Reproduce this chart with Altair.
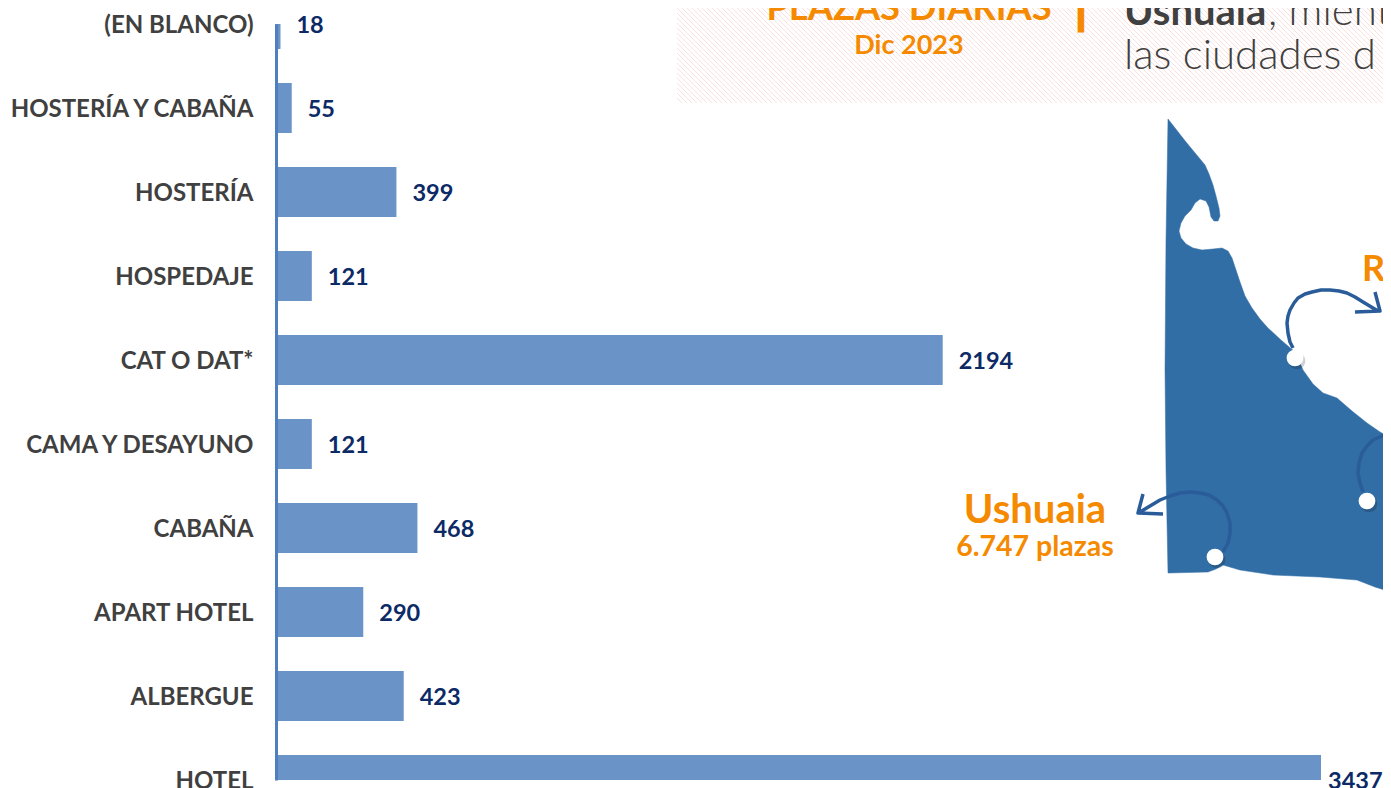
import altair as alt

categories = ["(EN BLANCO)", "HOSTERÍA Y CABAÑA", "HOSTERÍA", "HOSPEDAJE", "CAT O DAT*",
              "CAMA Y DESAYUNO", "CABAÑA", "APART HOTEL", "ALBERGUE", "HOTEL"]
values = [18, 55, 399, 121, 2194, 121, 468, 290, 423, 3437]

ORIGIN_X, ORIGIN_Y = 275, 24
PLOT_W, PLOT_H = 1108, 756
FONT = "Lato"
ORANGE = "#F58A00"
NAVY = "#0B2A66"
GREY = "#404040"
BAR = "#6A94C8"
LAND = "#326EA6"
ARROW = "#2A5C9A"

land_outline = [
    (1168, 119), (1186, 142), (1205, 165), (1209, 174), (1213, 185), (1216, 196), (1219, 208), (1220, 216),
    (1218, 221), (1214, 221), (1211, 217), (1209, 207), (1206, 201), (1200, 199), (1195, 203), (1191, 210),
    (1185, 216), (1181, 223), (1179, 231), (1181, 238), (1186, 244), (1193, 248), (1202, 250), (1213, 249),
    (1222, 248), (1228, 251), (1232, 258), (1236, 270), (1240, 282), (1245, 296), (1252, 308), (1260, 319),
    (1268, 328), (1281, 340), (1295, 352), (1303, 370), (1313, 384), (1323, 393), (1337, 398), (1352, 411),
    (1367, 423), (1380, 432), (1391, 438), (1391, 592), (1375, 587), (1357, 580), (1320, 577), (1273, 575),
    (1240, 570), (1223, 565), (1216, 569), (1208, 572), (1168, 573), (1166, 470), (1165, 370), (1166, 240),
    (1168, 119),
]
arrow_lines = [
    [(1293, 348), (1290, 342), (1288, 333), (1287, 323), (1288, 316), (1290, 310), (1294, 303), (1298, 298),
     (1305, 294), (1312, 292), (1321, 290), (1330, 290), (1339, 291), (1347, 293), (1355, 297), (1363, 302),
     (1378, 311)],
    [(1375, 292), (1380, 311), (1355, 312)],
    [(1223, 552), (1228, 543), (1230, 533), (1230, 523), (1227, 513), (1223, 506), (1217, 500), (1209, 495),
     (1200, 493), (1190, 492), (1180, 493), (1170, 496), (1160, 500), (1140, 512)],
    [(1143, 494), (1138, 513), (1163, 514)],
    [(1363, 492), (1360, 483), (1358, 473), (1359, 463), (1362, 453), (1367, 446), (1373, 440), (1382, 436),
     (1391, 433)],
]
dots = [(1295, 358), (1215, 557), (1367, 501)]

# (text, x, baseline y, size, weight, colour, align, outline)
texts = [
    ("PLAZAS DIARIAS", 909, 20, 36.3, "bold", ORANGE, "center", 0),
    ("Dic 2023", 909, 54, 27, "bold", ORANGE, "center", 0),
    ("|", 1081, 25, 36, "bold", ORANGE, "center", 3),
    ("Ushuaia", 1124, 25, 40, "bold", GREY, "left", 0),
    (", mient", 1268, 25, 42, 300, GREY, "left", 0),
    ("las ciudades d", 1124, 69, 42, 300, GREY, "left", 0),
    ("Ushuaia", 1035, 523, 40, "bold", ORANGE, "center", 0),
    ("6.747 plazas", 1035, 556, 28.5, "bold", ORANGE, "center", 0),
    ("R", 1362, 281, 36, "bold", ORANGE, "left", 0),
]

HATCH = (677, 8, 1391, 103)


def hatch_lines():
    x0, y0, x1, y1 = HATCH
    lines = []
    c = x0 - (y1 - y0)
    while c < x1:
        sx, sy = c, y0
        if sx < x0:
            sy += x0 - sx
            sx = x0
        ex, ey = c + (y1 - y0), y1
        if ex > x1:
            ey -= ex - x1
            ex = x1
        lines.append([[sx, sy], [ex, ey]])
        c += 5
    return lines


proj = dict(type="identity", scale=1, translate=[-ORIGIN_X, -ORIGIN_Y])


def feature(kind, coords):
    return {"type": "Feature", "properties": {}, "geometry": {"type": kind, "coordinates": coords}}


hatch = alt.Chart(alt.Data(values=[feature("MultiLineString", hatch_lines())])).mark_geoshape(
    filled=False, stroke="#FBE0E0", strokeWidth=1, clip=False).project(**proj)
land = alt.Chart(alt.Data(values=[feature("Polygon", [[list(p) for p in land_outline]])])).mark_geoshape(
    fill=LAND, stroke=LAND, strokeWidth=0.5, clip=False).project(**proj)
arrows = alt.Chart(alt.Data(values=[feature("MultiLineString", [[list(p) for p in l] for l in arrow_lines])])).mark_geoshape(
    filled=False, stroke=ARROW, strokeWidth=3.5, strokeJoin="round", clip=False).project(**proj)

rows = [{"categoria": c, "plazas": v} for c, v in zip(categories, values)]
base = alt.Data(values=rows)
y_enc = alt.Y("categoria:N", sort=categories, title=None,
              scale=alt.Scale(type="point", padding=0),
              axis=alt.Axis(ticks=False, grid=False, labelFont=FONT, labelFontWeight="bold",
                            labelFontSize=24, labelColor=GREY, labelPadding=23, labelLimit=400, labelOffset=1,
                            domainColor="#4E80C0", domainWidth=3, offset=-1, zindex=1))
x_enc = alt.X("plazas:Q", axis=None, scale=alt.Scale(domain=[0, PLOT_W / (1046 / 3437)], nice=False, zero=True))

bars = alt.Chart(base).mark_bar(height=50, color=BAR, clip=True).encode(x=x_enc, y=y_enc)
label_style = dict(align="left", baseline="middle", dy=1.5, font=FONT, fontWeight="bold", fontSize=23.5, color=NAVY)
# The largest value sits closer to its bar so that it stays whole inside the page.
labels = alt.Chart(alt.Data(values=rows[:-1])).mark_text(dx=16, **label_style).encode(x=x_enc, y=y_enc, text="plazas:Q")
last_label = alt.Chart(alt.Data(values=rows[-1:])).mark_text(dx=7, **label_style).encode(x=x_enc, y=y_enc, text="plazas:Q")

layers = [hatch, land, arrows]
for dx_, dy_ in dots:
    layers.append(alt.Chart(alt.Data(values=[{}])).mark_circle(size=280, color="#000000", opacity=0.18).encode(
        x=alt.value(dx_ + 2 - ORIGIN_X), y=alt.value(dy_ + 3 - ORIGIN_Y)))
    layers.append(alt.Chart(alt.Data(values=[{}])).mark_circle(size=280, color="#FFFFFF", opacity=1).encode(
        x=alt.value(dx_ - ORIGIN_X), y=alt.value(dy_ - ORIGIN_Y)))
for t, px, py, sz, w, col, al, outline in texts:
    style = {"stroke": col, "strokeWidth": outline} if outline else {}
    layers.append(alt.Chart(alt.Data(values=[{}])).mark_text(
        text=t, align=al, baseline="alphabetic", font=FONT, fontSize=sz, fontWeight=w, color=col, **style).encode(
        x=alt.value(px - ORIGIN_X), y=alt.value(py - ORIGIN_Y)))
layers += [bars, labels, last_label]

chart = alt.layer(*layers).properties(
    width=PLOT_W, height=PLOT_H,
    padding={"left": ORIGIN_X - 8, "top": ORIGIN_Y - 8, "right": 0, "bottom": 8},
    autosize=alt.AutoSizeParams(type="none"),
).configure_view(stroke=None)

chart.save("out.html", embed_options={"renderer": "svg", "actions": False})
